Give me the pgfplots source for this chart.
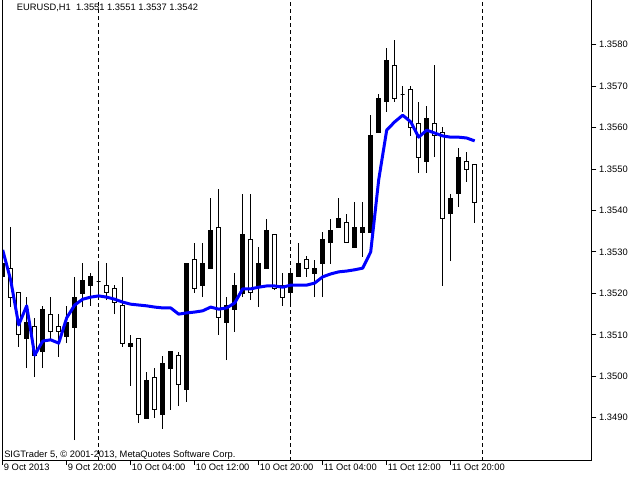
\documentclass[border=0pt]{standalone}
\usepackage{fontspec}
\setmainfont{Liberation Sans}
\usepackage{pgfplots}
\usepackage{pgfplotstable}
\pgfplotsset{compat=1.18}

% EURUSD H1 bars, 9 Oct 12:00 (j=0) to 11 Oct 23:00 (j=59); ma = blue moving average
\pgfplotstableread{
j  o       h       l       c       ma
0  1.35240 1.35285 1.35232 1.35273 1.35305
1  1.35261 1.35360 1.35167 1.35191 1.35232
2  1.35201 1.35201 1.35071 1.35100 1.35124
3  1.35090 1.35191 1.35020 1.35131 1.35170
4  1.35119 1.35141 1.34998 1.35049 1.35051
5  1.35059 1.35170 1.35020 1.35160 1.35085
6  1.35150 1.35191 1.35090 1.35107 1.35088
7  1.35119 1.35150 1.35047 1.35109 1.35080
8  1.35097 1.35170 1.35080 1.35131 1.35141
9  1.35117 1.35240 1.34846 1.35191 1.35172
10 1.35199 1.35273 1.35167 1.35230 1.35186
11 1.35218 1.35249 1.35170 1.35240 1.35191
12 1.35228 1.35273 1.35184 1.35228 1.35194
13 1.35220 1.35273 1.35184 1.35201 1.35191
14 1.35211 1.35220 1.35150 1.35179 1.35186
15 1.35170 1.35240 1.35071 1.35080 1.35179
16 1.35071 1.35100 1.34977 1.35080 1.35174
17 1.35090 1.35090 1.34887 1.34909 1.35172
18 1.34899 1.35010 1.34899 1.34989 1.35170
19 1.34998 1.35020 1.34899 1.34919 1.35167
20 1.34909 1.35049 1.34873 1.35030 1.35165
21 1.35020 1.35059 1.34919 1.35059 1.35165
22 1.35049 1.35059 1.34928 1.34979 1.35150
23 1.34969 1.35271 1.34938 1.35271 1.35153
24 1.35281 1.35322 1.35201 1.35211 1.35155
25 1.35218 1.35322 1.35191 1.35271 1.35158
26 1.35261 1.35430 1.35261 1.35351 1.35167
27 1.35360 1.35452 1.35100 1.35141 1.35162
28 1.35129 1.35191 1.35039 1.35170 1.35165
29 1.35160 1.35249 1.35107 1.35220 1.35177
30 1.35199 1.35440 1.35191 1.35341 1.35211
31 1.35331 1.35440 1.35184 1.35201 1.35211
32 1.35220 1.35312 1.35167 1.35271 1.35215
33 1.35261 1.35380 1.35261 1.35351 1.35218
34 1.35341 1.35341 1.35208 1.35211 1.35218
35 1.35220 1.35249 1.35170 1.35191 1.35215
36 1.35201 1.35257 1.35170 1.35249 1.35220
37 1.35240 1.35322 1.35240 1.35271 1.35220
38 1.35281 1.35290 1.35240 1.35261 1.35220
39 1.35249 1.35281 1.35191 1.35261 1.35225
40 1.35271 1.35348 1.35191 1.35331 1.35240
41 1.35322 1.35380 1.35271 1.35351 1.35247
42 1.35360 1.35430 1.35360 1.35380 1.35252
43 1.35370 1.35392 1.35322 1.35322 1.35254
44 1.35310 1.35421 1.35310 1.35360 1.35257
45 1.35348 1.35421 1.35288 1.35360 1.35261
46 1.35348 1.35630 1.35348 1.35582 1.35300
47 1.35589 1.35681 1.35589 1.35671 1.35474
48 1.35662 1.35792 1.35638 1.35761 1.35594
49 1.35751 1.35811 1.35662 1.35671 1.35614
50 1.35681 1.35700 1.35638 1.35681 1.35630
51 1.35691 1.35700 1.35580 1.35601 1.35614
52 1.35611 1.35662 1.35491 1.35529 1.35577
53 1.35519 1.35652 1.35491 1.35621 1.35594
54 1.35611 1.35751 1.35529 1.35580 1.35587
55 1.35589 1.35601 1.35218 1.35380 1.35580
56 1.35392 1.35440 1.35278 1.35430 1.35577
57 1.35440 1.35551 1.35409 1.35529 1.35577
58 1.35519 1.35541 1.35469 1.35500 1.35575
59 1.35510 1.35510 1.35370 1.35420 1.35568
}\candles

\definecolor{mablue}{RGB}{0,0,255}

\begin{document}
\begin{tikzpicture}[font=\fontsize{7}{8}\selectfont]
\path[use as bounding box] (0,0) rectangle (480pt,-360pt);
\begin{axis}[
  name=mt,
  at={(2.025pt,0pt)}, anchor=north west,
  scale only axis, width=441.975pt, height=345.525pt,
  xmin=0, xmax=73.6625, ymin=1.347963, ymax=1.35908,
  axis line style={draw=none},
  tick align=outside, major tick length=3.2pt,
  tick style={black, line width=0.75pt},
  xtick pos=left, ytick pos=right, yticklabel pos=right,
  xtick={0,8,16,24,32,40,48,56},
  xticklabels={9 Oct 2013, 9 Oct 20:00, 10 Oct 04:00, 10 Oct 12:00,
    10 Oct 20:00, 11 Oct 04:00, 11 Oct 12:00, 11 Oct 20:00},
  xticklabel style={anchor=north west, inner sep=0pt, xshift=0.75pt, yshift=0.75pt},
  ytick={1.349,1.350,1.351,1.352,1.353,1.354,1.355,1.356,1.357,1.358},
  yticklabels={1.3490,1.3500,1.3510,1.3520,1.3530,1.3540,1.3550,1.3560,1.3570,1.3580},
  yticklabel style={anchor=west, inner sep=0pt, xshift=2pt},
  extra x ticks={12,36,60}, extra x tick labels={},
  extra x tick style={grid=major, tick style={draw=none},
    major grid style={black, line width=0.75pt, dash pattern=on 3pt off 2.25pt}},
]
\pgfplotsinvokeforeach{0,...,59}{
  \pgfplotstablegetelem{#1}{o}\of\candles \edef\co{\pgfplotsretval}
  \pgfplotstablegetelem{#1}{h}\of\candles \edef\ch{\pgfplotsretval}
  \pgfplotstablegetelem{#1}{l}\of\candles \edef\cl{\pgfplotsretval}
  \pgfplotstablegetelem{#1}{c}\of\candles \edef\cc{\pgfplotsretval}
  \pgfmathsetmacro\xa{#1-0.25}
  \pgfmathsetmacro\xb{#1+0.25}
  % rising bars are filled black, falling bars white
  \ifdim\cc pt>\co pt \def\bodyfill{black}\else\def\bodyfill{white}\fi
  \edef\temp{\noexpand\addplot[black, line width=0.75pt, forget plot]
    coordinates {(#1,\cl) (#1,\ch)};}
  \temp
  \edef\temp{\noexpand\addplot[draw=black, fill=\bodyfill, line width=0.75pt, forget plot]
    coordinates {(\xa,\co) (\xb,\co) (\xb,\cc) (\xa,\cc)} -- cycle;}
  \temp
}
\addplot[mablue, line width=2.25pt, line join=round] table[x=j, y=ma] {\candles};
\end{axis}
\draw[black, line width=0.75pt] (mt.north west) -- (mt.south west) -- (mt.south east) -- (mt.north east);
\node[anchor=base west, inner sep=0pt] at (12.5pt,-7.9pt) {EURUSD,H1\ \ 1.3551 1.3551 1.3537 1.3542};
\node[anchor=base west, inner sep=0pt] at (3pt,-342.75pt) {SIGTrader 5, © 2001-2013, MetaQuotes Software Corp.};
\end{tikzpicture}
\end{document}
